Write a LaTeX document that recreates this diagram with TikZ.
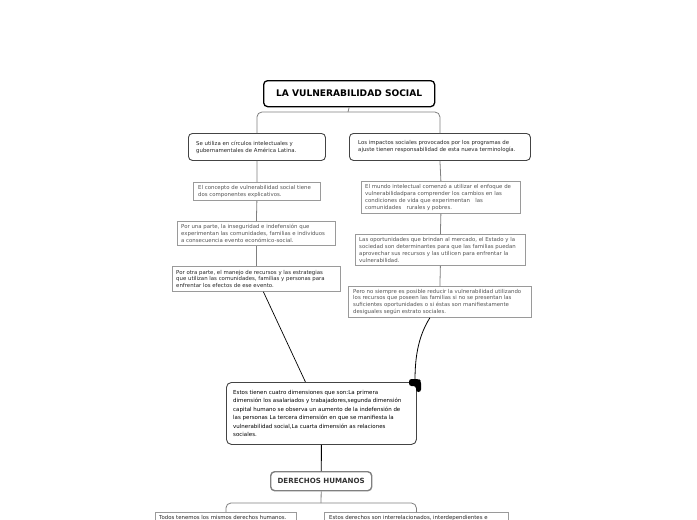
\documentclass[tikz,border=0pt]{standalone}
\usepackage{fontspec}
\setmainfont{DejaVu Sans}
\usetikzlibrary{calc}
\definecolor{conn}{HTML}{808080}
\definecolor{gbord}{HTML}{9A9A9A}
\definecolor{dbord}{HTML}{444444}
\definecolor{gtext}{HTML}{555555}
\tikzset{
  sm/.style={inner sep=0pt, anchor=north west},
  txt/.style={font=\fontsize{5.4}{6.9}\selectfont, align=left, inner sep=0pt, anchor=west},
  rbox/.style={sm, draw=dbord, line width=0.9pt, rounded corners=4pt, fill=white},
  gbox/.style={sm, draw=gbord, line width=0.8pt, fill=white},
  bigbox/.style={sm, draw=dbord, line width=0.9pt, rounded corners=5pt, fill=white},
  cline/.style={draw=conn, line width=0.8pt},
}
% style, name, x, y, w, h, pad, text-style, text
\newcommand{\bx}[9]{%
  \node[#1, minimum width=#5pt, minimum height=#6pt,
        label={[txt, #8, anchor=west, xshift=#7pt]west:{#9}}] (#2) at (#3,#4) {};}
\begin{document}
\begin{tikzpicture}[x=1pt,y=-1pt]
\useasboundingbox (0,0) rectangle (697,520);
\clip (0,0) rectangle (697,520);
\fill[white] (0,0) rectangle (697,520);

% title
\node[draw=black, line width=1.3pt, rounded corners=4pt, fill=white, minimum width=171pt, minimum height=26pt, inner sep=0pt,
      font=\fontsize{9.1}{10}\selectfont\bfseries, anchor=north west] (title) at (263,80) {LA VULNERABILIDAD SOCIAL};

% top row
\bx{rbox}{L1}{188}{133}{137}{27}{8}{text=black!85}{Se utiliza en círculos intelectuales y\\gubernamentales de América Latina.}
\bx{rbox}{R1}{349}{133}{181}{27}{9}{text=black!85}{Los impactos sociales provocados por los programas de\\ajuste tienen responsabilidad de esta nueva terminología.}

% left column
\bx{gbox}{L2}{193}{182}{127}{18}{5}{text=gtext}{El concepto de vulnerabilidad social tiene\\dos componentes explicativos.}
\bx{gbox}{L3}{177}{221}{158}{24}{4}{text=gtext}{Por una parte, la inseguridad e indefensión que\\experimentan las comunidades, familias e individuos\\a consecuencia evento económico-social.}
\bx{gbox}{L4}{172}{266}{168}{25}{4}{text=black!85}{Por otra parte, el manejo de recursos y las estrategias\\que utilizan las comunidades, familias y personas para\\enfrentar los efectos de ese evento.}

% right column
\bx{gbox}{R2}{361}{181}{159}{32}{4}{text=gtext}{El mundo intelectual comenzó a utilizar el enfoque de\\vulnerabilidadpara comprender los cambios en las\\condiciones de vida que experimentan \ \ las\\comunidades \ \ rurales y pobres.}
\bx{gbox}{R3}{355}{234}{170}{31}{4}{text=gtext}{Las oportunidades que brindan al mercado, el Estado y la\\sociedad son determinantes para que las familias puedan\\aprovechar sus recursos y las utilicen para enfrentar la\\vulnerabilidad.}
\bx{gbox}{R4}{348}{286}{183}{31}{5}{text=gtext}{Pero no siempre es posible reducir la vulnerabilidad utilizando\\los recursos que poseen las familias si no se presentan las\\suficientes oportunidades o si éstas son manifiestamente\\desiguales según estrato sociales.}

% big box
\bx{bigbox}{big}{226}{382}{190}{62}{7}{text=black, font=\fontsize{5.5}{8.5}\selectfont}{Estos tienen cuatro dimensiones que son:La primera\\dimensión los asalariados y trabajadores,segunda dimensión\\capital humano se observa un aumento de la indefensión de\\las personas La tercera dimensión en que se manifiesta la\\vulnerabilidad social,La cuarta dimensión as relaciones\\sociales.}

% derechos humanos
\node[draw=conn, line width=1.4pt, rounded corners=4pt, fill=white, minimum width=101pt, minimum height=19pt, inner sep=0pt,
      font=\fontsize{7.1}{8}\selectfont\bfseries, text=black!80, anchor=north west] (dh) at (270,471) {DERECHOS HUMANOS};

% bottom boxes
\node[gbox, minimum width=141pt, minimum height=20pt,
      label={[txt, text=black!85, anchor=north west, xshift=4pt, yshift=-3pt]north west:{Todos tenemos los mismos derechos humanos.}}] (B1) at (155,512) {};
\node[gbox, minimum width=184pt, minimum height=20pt,
      label={[txt, text=black!85, anchor=north west, xshift=5pt, yshift=-3pt]north west:{Estos derechos son interrelacionados, interdependientes e}}] (B2) at (324,512) {};

% connectors
\coordinate (br) at (348,112);
\draw[cline] (title.south) -- (br);
\draw[cline, rounded corners=5pt] (L1.north) -- (L1.north |- br) -- (R1.north |- br) -- (R1.north);
\draw[cline] (L1.south) -- (L2.north);
\draw[cline] (L2.south) -- (L3.north);
\draw[cline] (L3.south) -- (L4.north);
\draw[cline] (R1.south) -- (R2.north);
\draw[cline] (R2.south) -- (R3.north);
\draw[cline] (R3.south) -- (R4.north);
\draw[black, line width=0.7pt] ([xshift=7pt]L4.south) -- ([xshift=-16pt]big.north);
\coordinate (blob) at (415,380);
\draw[black, line width=0.8pt] ([xshift=-10pt]R4.south) .. controls (419,335) and (415,355) .. (blob);
\fill[black, rounded corners=2.5pt] (409,379) -- (419,379) -- (421,381) -- (421,392) -- (416,392) -- (416,386) -- (409,386) -- cycle;
\draw[black, line width=0.9pt] (big.south) -- (dh.north);
\coordinate (br2) at (321,503);
\draw[cline] (dh.south) -- (br2);
\draw[cline, rounded corners=5pt] (B1.north) -- (B1.north |- br2) -- (B2.north |- br2) -- (B2.north);
\end{tikzpicture}
\end{document}
